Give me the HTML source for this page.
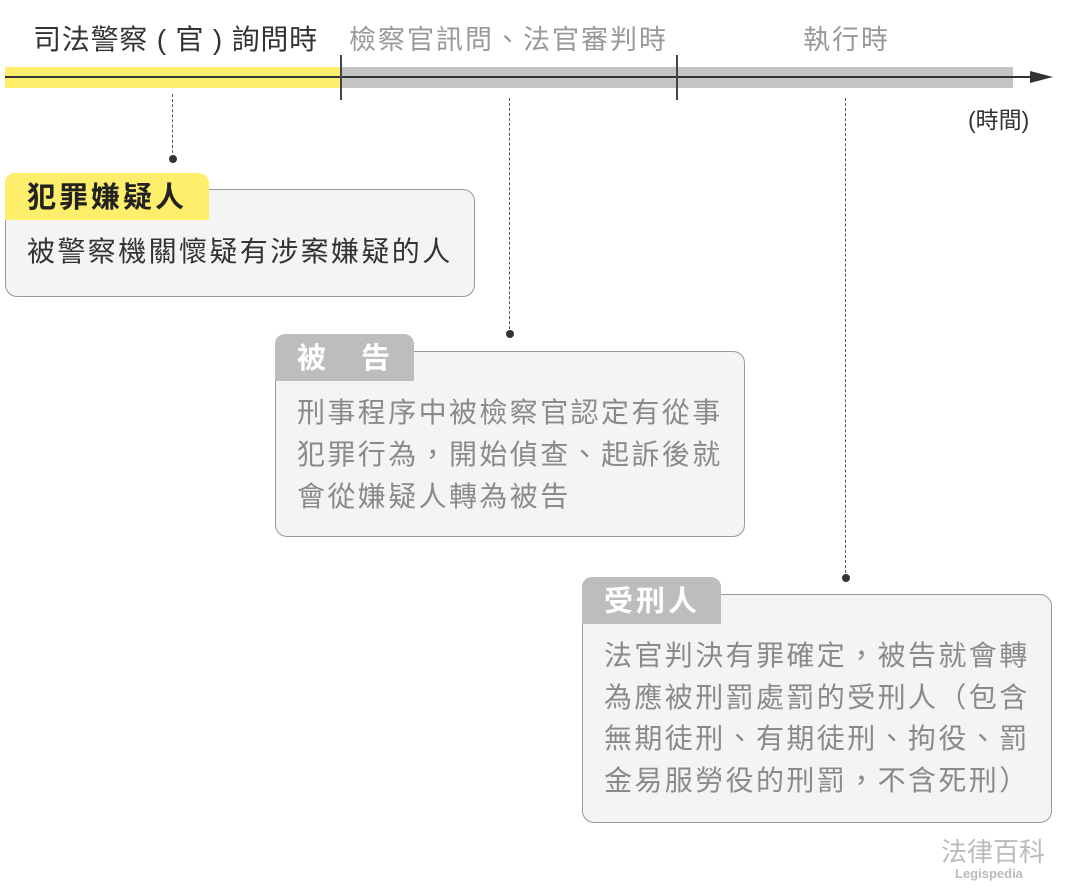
<!DOCTYPE html>
<html><head><meta charset="utf-8"><style>
body{margin:0;width:1065px;height:896px;background:#fff;position:relative;overflow:hidden;font-family:"Liberation Sans","Noto Sans CJK TC",sans-serif}
.a{position:absolute;white-space:nowrap}
.box{position:absolute;background:#f4f4f4;border:1.5px solid #999;border-radius:12px;box-sizing:border-box}
.tab{position:absolute;border-radius:10px 10px 0 0;font-weight:bold;font-size:29px;letter-spacing:3px;box-sizing:border-box;padding-left:22px;line-height:50px}
.txt{position:absolute;font-size:28px;letter-spacing:2.4px;line-height:42px}
.dl{position:absolute;border-left:1.5px dashed #555;width:0}
.dot{position:absolute;width:8px;height:8px;border-radius:50%;background:#333}
</style></head><body>
<div class="a" style="left:33px;top:18px;font-size:28px;color:#333;letter-spacing:0.8px">司法警察 ( 官 ) 詢問時</div>
<div class="a" style="left:349px;top:18px;font-size:27px;color:#999;letter-spacing:2px">檢察官訊問、法官審判時</div>
<div class="a" style="left:803px;top:18px;font-size:27px;color:#999;letter-spacing:2px">執行時</div>
<div class="a" style="left:5px;top:67px;width:336px;height:21px;background:#fdef6c"></div>
<div class="a" style="left:341px;top:67px;width:672px;height:21px;background:#c4c4c4"></div>
<div class="a" style="left:5px;top:76px;width:1035px;height:2px;background:#333"></div>
<svg class="a" style="left:1030px;top:70px" width="25" height="15"><polygon points="0,1 23,7 0,13" fill="#333"/></svg>
<div class="a" style="left:340px;top:55px;width:2px;height:45px;background:#444"></div>
<div class="a" style="left:676px;top:55px;width:2px;height:45px;background:#444"></div>
<div class="a" style="left:968px;top:101px;font-size:23px;color:#333">(時間)</div>

<div class="dl" style="left:172px;top:94px;height:64px"></div><div class="dot" style="left:169px;top:155px"></div>
<div class="dl" style="left:509px;top:98px;height:236px"></div><div class="dot" style="left:506px;top:330px"></div>
<div class="dl" style="left:845px;top:98px;height:480px"></div><div class="dot" style="left:842px;top:574px"></div>

<div class="box" style="left:5px;top:189px;width:470px;height:108px"></div>
<div class="tab" style="left:5px;top:173px;width:204px;height:47px;background:#fdef6c;color:#222">犯罪嫌疑人</div>
<div class="txt" style="left:27px;top:231px;color:#333">被警察機關懷疑有涉案嫌疑的人</div>

<div class="box" style="left:275px;top:351px;width:470px;height:186px"></div>
<div class="tab" style="left:275px;top:334px;width:139px;height:47px;background:#bdbdbd;color:#fff">被　告</div>
<div class="txt" style="left:297px;top:392px;color:#8a8a8a">刑事程序中被檢察官認定有從事<br>犯罪行為，開始偵查、起訴後就<br>會從嫌疑人轉為被告</div>

<div class="box" style="left:582px;top:594px;width:470px;height:229px"></div>
<div class="tab" style="left:582px;top:577px;width:139px;height:47px;background:#bdbdbd;color:#fff">受刑人</div>
<div class="txt" style="left:604px;top:635px;color:#8a8a8a;line-height:41.5px">法官判決有罪確定，被告就會轉<br>為應被刑罰處罰的受刑人（包含<br>無期徒刑、有期徒刑、拘役、罰<br>金易服勞役的刑罰，不含死刑）</div>

<div class="a" style="left:941px;top:832px;font-size:26px;color:#bbb;letter-spacing:0px">法律百科</div>
<div class="a" style="left:955px;top:866px;font-size:13px;color:#bbb;font-weight:bold">Legispedia</div>
</body></html>
